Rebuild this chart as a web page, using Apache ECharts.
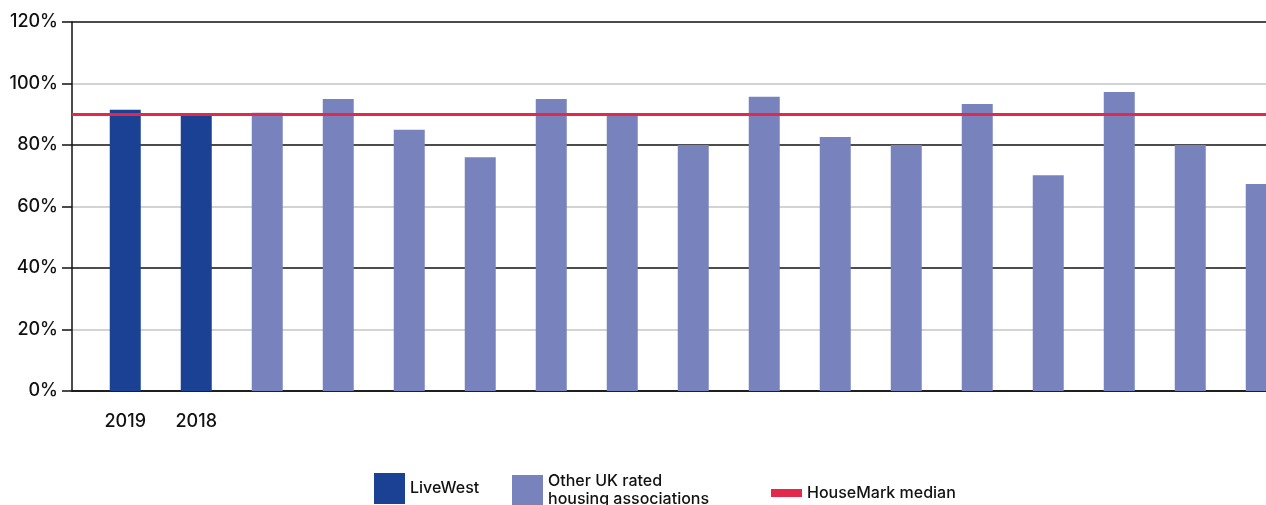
<!DOCTYPE html>
<html>
<head>
<meta charset="utf-8">
<script src="https://cdn.jsdelivr.net/npm/echarts@6/dist/echarts.min.js"></script>
<style>
html,body{margin:0;padding:0;background:#fff;}
#chart{width:1266px;height:505px;}
</style>
</head>
<body>
<div id="chart"></div>
<script>
// ---- data ----
var categories = ['2019', '2018', '', '', '', '', '', '', '', '', '', '', '', '', '', '', ''];
var liveWestValues = [91.5, 89.5];
var otherValues = [90.5, 95, 85, 76, 95, 90, 80, 95.7, 82.6, 80, 93.3, 70.2, 97.2, 80, 67.3];
var medianValue = 90;
var yTicks = [0, 20, 40, 60, 80, 100, 120];
var seriesNames = ['LiveWest', 'Other UK rated\nhousing associations', 'HouseMark median'];

// ---- build ----
var liveWestData = liveWestValues.map(function (v, i) { return [i, v]; });
var otherData = otherValues.map(function (v, i) { return [i + liveWestValues.length, v]; });
var labelIdx = [];
categories.forEach(function (c, i) { if (c !== '') labelIdx.push(i); });

var FONT = 'Inter, "Noto Sans", sans-serif';
var chart = echarts.init(document.getElementById('chart'));
var gridLeft = 72, gridWidth = 1266 - 72, band = 71, xMin = -0.75;
var legendText = { fontSize: 16, fontWeight: 500, color: '#111', fontFamily: FONT };

chart.setOption({
  animation: false,
  grid: { left: gridLeft, right: 0, top: 22, bottom: 114 },
  xAxis: {
    type: 'value',
    min: xMin,
    max: xMin + gridWidth / band,
    splitLine: { show: false },
    axisLine: { show: true, onZero: false, lineStyle: { color: '#111', width: 1.5 } },
    axisTick: { show: false },
    axisLabel: {
      customValues: labelIdx,
      margin: 22,
      fontSize: 18,
      fontWeight: 500,
      color: '#111',
      fontFamily: FONT,
      formatter: function (v) { return categories[Math.round(v)] || ''; }
    }
  },
  yAxis: {
    type: 'value',
    min: yTicks[0],
    max: yTicks[yTicks.length - 1],
    interval: 20,
    axisLine: { show: true, onZero: false, lineStyle: { color: '#111', width: 1.5 } },
    axisTick: { show: true, length: 10, lineStyle: { color: '#111', width: 1.5 } },
    axisLabel: { margin: 14, fontSize: 18, fontWeight: 500, color: '#111', fontFamily: FONT, formatter: '{value}%' },
    splitLine: { show: true, lineStyle: { color: ['#111', '#c4c4c4'], width: 1.5 } }
  },
  legend: [
    { data: [seriesNames[0]], left: 374, top: 473, padding: 0, itemWidth: 31, itemHeight: 31, icon: 'rect',
      textStyle: Object.assign({ padding: [3, 0, 0, 0] }, legendText) },
    { data: [seriesNames[1]], left: 512, top: 471, padding: 0, itemWidth: 31, itemHeight: 31, icon: 'rect',
      textStyle: Object.assign({ lineHeight: 18, padding: [3, 0, 0, 0] }, legendText) },
    { data: [seriesNames[2]], left: 771, top: 485, padding: 0, itemWidth: 31, itemHeight: 8, icon: 'rect',
      textStyle: legendText }
  ],
  series: [
    { name: seriesNames[0], type: 'bar', data: liveWestData, barWidth: 31, barGap: '-100%',
      itemStyle: { color: '#1a4194' } },
    { name: seriesNames[1], type: 'bar', data: otherData, barWidth: 31, barGap: '-100%',
      itemStyle: { color: '#7883be' } },
    { name: seriesNames[2], type: 'line', data: [], z: 5,
      itemStyle: { color: '#e4284b' }, lineStyle: { color: '#e4284b' },
      markLine: {
        silent: true, symbol: 'none', label: { show: false },
        lineStyle: { color: '#e4284b', width: 3, type: 'solid' },
        data: [{ yAxis: medianValue }]
      }
    }
  ]
});
</script>
</body>
</html>
